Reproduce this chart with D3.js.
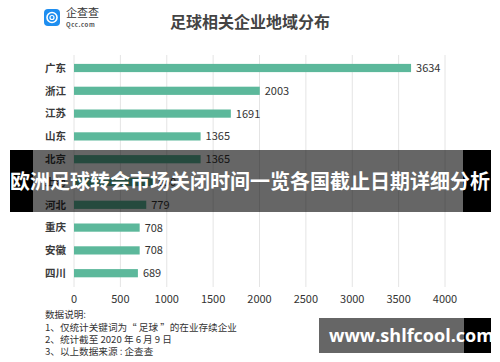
<!DOCTYPE html>
<html>
<head>
<meta charset="utf-8">
<script src="https://cdn.jsdelivr.net/npm/d3@7"></script>
<style>
  body { margin: 0; background: #fff; }
  svg { display: block; font-family: "Noto Sans CJK SC", "Noto Sans", sans-serif; }
</style>
</head>
<body>
<div id="chart"></div>
<script>
// Data
const provinces = ['广东', '浙江', '江苏', '山东', '北京', '上海', '河北', '重庆', '安徽', '四川'];
const counts = [3634, 2003, 1691, 1365, 1365, 850, 779, 708, 708, 689];
const xTicks = [0, 500, 1000, 1500, 2000, 2500, 3000, 3500, 4000];
const notes = ['数据说明:', '1、仅统计关键词为“ 足球 ”的在业存续企业', '2、统计截至 2020 年 6 月 9 日', '3、以上数据来源 : 企查查'];

const width = 500, height = 362;
const svg = d3.select('#chart').append('svg')
    .attr('width', width)
    .attr('height', height);

svg.append('rect').attr('width', width).attr('height', height).attr('fill', '#fff');

// Scales
const x = d3.scaleLinear().domain([0, 4000]).range([74, 445]);
const y = d3.scaleBand().domain(provinces).range([56.6, 284.6]).paddingInner(0.64).paddingOuter(0.32);

// Grid lines
svg.append('g').selectAll('line')
    .data(xTicks)
    .join('line')
    .attr('x1', d => x(d)).attr('x2', d => x(d))
    .attr('y1', 55).attr('y2', 287)
    .attr('stroke', '#e4e4e4')
    .attr('stroke-width', 1);

// Bars
svg.append('g').selectAll('rect')
    .data(provinces)
    .join('rect')
    .attr('x', x(0))
    .attr('y', d => y(d))
    .attr('width', (d, i) => x(counts[i]) - x(0))
    .attr('height', y.bandwidth())
    .attr('fill', '#5cb89b');

// Category labels
svg.append('g').selectAll('text')
    .data(provinces)
    .join('text')
    .attr('x', 66)
    .attr('y', d => y(d) + y.bandwidth() / 2)
    .attr('dy', '0.36em')
    .attr('text-anchor', 'end')
    .attr('font-size', '10.5px')
    .attr('font-weight', 'bold')
    .attr('fill', '#3a3a3a')
    .text(d => d);

// Value labels
svg.append('g').selectAll('text')
    .data(provinces)
    .join('text')
    .attr('x', (d, i) => x(counts[i]) + 5)
    .attr('y', d => y(d) + y.bandwidth() / 2)
    .attr('dy', '0.36em')
    .attr('font-size', '11px')
    .attr('fill', '#333')
    .text((d, i) => counts[i]);

// X axis labels
svg.append('g').selectAll('text')
    .data(xTicks)
    .join('text')
    .attr('x', d => x(d))
    .attr('y', 299)
    .attr('dy', '0.36em')
    .attr('text-anchor', 'middle')
    .attr('font-size', '11px')
    .attr('fill', '#333')
    .text(d => d);

// Title
svg.append('text')
    .attr('x', 250)
    .attr('y', 22)
    .attr('dy', '0.36em')
    .attr('text-anchor', 'middle')
    .attr('font-size', '16px')
    .attr('font-weight', 'bold')
    .attr('fill', '#444')
    .text('足球相关企业地域分布');

// Logo
const logo = svg.append('g');
logo.append('rect')
    .attr('x', 44).attr('y', 9).attr('width', 16).attr('height', 17)
    .attr('rx', 4).attr('fill', '#1e8ef0');
logo.append('circle')
    .attr('cx', 52).attr('cy', 17.5).attr('r', 5)
    .attr('fill', 'none').attr('stroke', '#fff').attr('stroke-width', 1.6);
logo.append('circle')
    .attr('cx', 52).attr('cy', 17.5).attr('r', 2)
    .attr('fill', 'none').attr('stroke', '#fff').attr('stroke-width', 1.2);
logo.append('text')
    .attr('x', 66).attr('y', 13.5).attr('dy', '0.36em')
    .attr('font-size', '11px').attr('fill', '#333')
    .text('企查查');
logo.append('text')
    .attr('x', 66).attr('y', 24.5).attr('dy', '0.36em')
    .attr('font-size', '6px').attr('font-weight', 'bold').attr('fill', '#555')
    .attr('letter-spacing', '0.6px')
    .text('Qcc.com');

// Notes
svg.append('g').selectAll('text')
    .data(notes)
    .join('text')
    .attr('x', 45)
    .attr('y', (d, i) => 315 + i * 12.2)
    .attr('dy', '0.36em')
    .attr('font-size', '9.6px')
    .attr('fill', '#333')
    .text(d => d);

// Banner overlay
const banner = svg.append('g');
banner.append('rect').attr('x', 10).attr('y', 150).attr('width', 23).attr('height', 62).attr('fill', '#000');
banner.append('rect').attr('x', 463).attr('y', 150).attr('width', 28).attr('height', 62).attr('fill', '#000');
banner.append('rect').attr('x', 33).attr('y', 150).attr('width', 430).attr('height', 62).attr('fill', 'rgba(0,0,0,0.6)');
banner.append('text')
    .attr('x', 250).attr('y', 182).attr('dy', '0.36em')
    .attr('text-anchor', 'middle')
    .attr('font-size', '20px').attr('font-weight', 'bold')
    .attr('fill', '#fff')
    .text('欧洲足球转会市场关闭时间一览各国截止日期详细分析');

// Watermark
const mark = svg.append('g');
mark.append('rect').attr('x', 319).attr('y', 318).attr('width', 145).attr('height', 35).attr('fill', '#666');
mark.append('rect').attr('x', 464).attr('y', 318).attr('width', 27).attr('height', 35).attr('fill', '#000');
mark.append('text')
    .attr('x', 329).attr('y', 336).attr('dy', '0.36em')
    .attr('font-family', '"Open Sans", sans-serif')
    .attr('font-size', '18px').attr('font-weight', 'bold')
    .attr('fill', '#fff')
    .text('www.shlfcool.com');
</script>
</body>
</html>
